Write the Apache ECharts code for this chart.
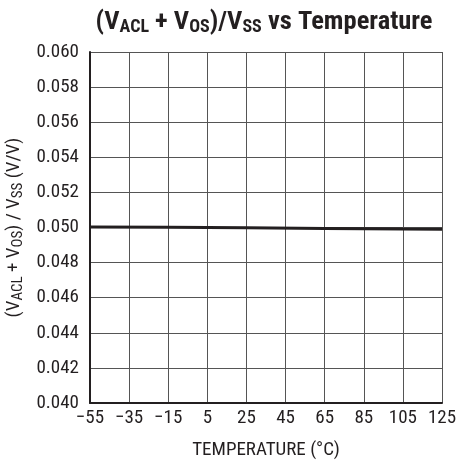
<!DOCTYPE html>
<html>
<head>
<meta charset="utf-8">
<script src="https://cdn.jsdelivr.net/npm/echarts@6/dist/echarts.min.js"></script>
<style>
  html, body { margin: 0; padding: 0; background: #fff; }
  #main { width: 457px; height: 460px; }
</style>
</head>
<body>
<div id="main"></div>
<script>
var temps = [-55, -15, 25, 65, 105, 125];
var ratio = [0.05003, 0.05001, 0.04998, 0.04995, 0.04991, 0.0499];
var xTicks = [-55, -35, -15, 5, 25, 45, 65, 85, 105, 125];

var FONT = "'Liberation Sans Narrow', 'Roboto Condensed', 'DejaVu Sans Condensed', sans-serif";
var X0 = -55; // x axis is shifted so ticks start at 0

var myChart = echarts.init(document.getElementById('main'));

var option = {
  backgroundColor: '#fff',
  animation: false,
  title: {
    text: '(V{sub|ACL} + V{sub|OS})/V{sub|SS} vs Temperature',
    left: 259,
    top: 3,
    textAlign: 'center',
    textStyle: {
      fontFamily: FONT,
      fontSize: 26.5,
      fontWeight: 'bold',
      color: '#231f20',
      rich: {
        sub: {
          fontFamily: FONT,
          fontSize: 18,
          fontWeight: 'bold',
          color: '#231f20',
          padding: [10, 0, 0, 0]
        }
      }
    }
  },
  grid: { left: 90, right: 15, top: 52, bottom: 57, outerBoundsMode: 'none', containLabel: false },
  xAxis: {
    type: 'value',
    min: 0,
    max: 180,
    interval: 20,
    name: 'TEMPERATURE (°C)',
    nameLocation: 'middle',
    nameGap: 38,
    nameTextStyle: { fontFamily: FONT, fontSize: 19, color: '#231f20' },
    axisLine: { show: true, lineStyle: { color: '#231f20', width: 2 } },
    axisTick: { show: false },
    axisLabel: {
      fontFamily: FONT, fontSize: 19, color: '#231f20', margin: 6,
      formatter: function (v) { return String(v + X0).replace('-', '\u2212'); }
    },
    splitLine: { show: true, lineStyle: { color: '#555', width: 1 } }
  },
  yAxis: {
    type: 'value',
    min: 0.04,
    max: 0.06,
    interval: 0.002,
    name: '(V{sub|ACL} + V{sub|OS}) / V{sub|SS} (V/V)',
    nameLocation: 'middle',
    nameGap: 54,
    nameTextStyle: {
      fontFamily: FONT, fontSize: 19, color: '#231f20',
      rich: { sub: { fontFamily: FONT, fontSize: 15, color: '#231f20', padding: [7, 0, 0, 0] } }
    },
    axisLine: { show: true, lineStyle: { color: '#231f20', width: 2 } },
    axisTick: { show: false },
    axisLabel: {
      fontFamily: FONT, fontSize: 19, color: '#231f20', margin: 11,
      formatter: function (v) { return v.toFixed(3); }
    },
    splitLine: { show: true, lineStyle: { color: '#555', width: 1 } }
  },
  series: [{
    type: 'line',
    data: temps.map(function (t, i) { return [t - X0, ratio[i]]; }),
    showSymbol: false,
    lineStyle: { color: '#231f20', width: 3 }
  }]
};
myChart.setOption(option);
</script>
</body>
</html>
